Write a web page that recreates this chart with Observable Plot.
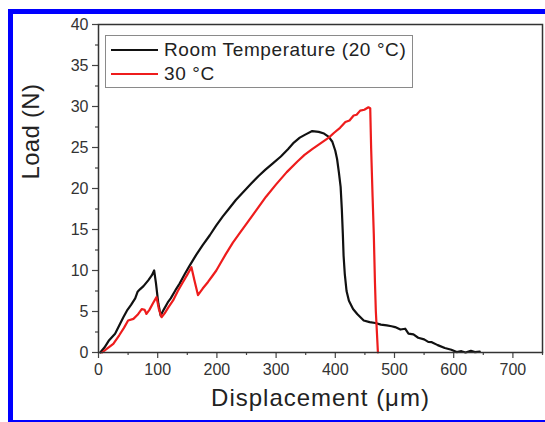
<!DOCTYPE html>
<html>
<head>
<meta charset="utf-8">
<script src="https://cdn.jsdelivr.net/npm/d3@7"></script>
<script src="https://cdn.jsdelivr.net/npm/@observablehq/plot@0.6"></script>
<style>
  html, body { margin: 0; padding: 0; background: #fff; }
  #wrap { position: relative; width: 545px; height: 422px; overflow: hidden; font-family: "Liberation Sans", Arial, sans-serif; }
  #border { position: absolute; left: 8px; top: 9px; width: 560px; height: 406px; border-left: 5px solid #0000ff; border-top: 5px solid #0000ff; border-bottom: 3px solid #0000ff; pointer-events: none; }
  #legend { position: absolute; left: 105px; top: 35px; width: 306px; height: 51px; border: 1px solid #8a8a8a; background: #fff; }
  .item { position: absolute; left: 5px; height: 22px; display: flex; align-items: center; font-size: 19px; letter-spacing: 0.6px; color: #222; white-space: nowrap; }
  .swatch { width: 47px; height: 0; border-top: 2px solid; margin-right: 6px; }
</style>
</head>
<body>
<div id="wrap"></div>
<script>
// Room Temperature (20 °C)
const rtX = [3,10,18,28,35,42,48,55,62,66,70,76,84,90,94,97,101,105,110,117,122,130,137,146,154,165,176,188,199,210,220,232,245,258,270,282,295,308,320,330,340,350,361,372,381,389,395,400,403,406,409,411,412.7,414,416,419,423,430,437,448,458,467.6,477,487,495,501,510,518,523.6,532,540,550,557,563,573,585,596,605,613,620,629,636,644];
const rtY = [0,0.6,1.5,2.3,3.3,4.3,5.1,5.8,6.6,7.4,7.7,8.1,8.8,9.4,10.0,8.5,6.0,4.5,5.2,6.1,6.6,7.6,8.4,9.6,10.6,11.9,13.1,14.3,15.5,16.6,17.5,18.6,19.6,20.6,21.5,22.3,23.1,23.9,24.8,25.6,26.2,26.6,27.0,26.9,26.7,26.3,25.7,24.6,23.6,22.0,20.2,17.5,14.5,11.8,9.6,7.5,6.3,5.3,4.7,3.9,3.7,3.6,3.4,3.3,3.2,3.1,2.8,2.9,2.3,2.2,1.8,1.6,1.3,1.26,0.9,0.55,0.33,0.05,0.16,0,0.2,0.05,0.1];
// 30 °C
const c30X = [6,15,25,35,43,50,59,66,73,78,81,86,92,98,102,106.5,112,118,126,134,142,150,157,162,168,176,185,192,199,207,215,227,240,252,266,283,300,318,336,348,361,375,389,398,408,417,424,431,436,442,449,456,459,460.5,463,465,467,468.5,472];
const c30Y = [0,0.5,1.06,2.1,3.0,3.9,4.1,4.6,5.3,5.2,4.7,5.2,6.0,6.75,5.3,4.3,4.8,5.5,6.35,7.5,8.5,9.5,10.4,8.8,7.0,7.8,8.6,9.3,10.0,11.0,12.0,13.4,14.7,15.9,17.3,19.0,20.5,22.0,23.3,24.1,24.8,25.5,26.2,26.8,27.4,28.1,28.3,28.9,29.0,29.5,29.6,29.9,29.8,25,19,14.5,8.5,5,0];

const seriesNames = ["Room Temperature (20 °C)", "30 °C"];
const seriesColors = ["#111111", "#ee1c1c"];
const xMajor = [0,100,200,300,400,500,600,700];
const xMinor = [50,150,250,350,450,550,650,750];
const yMajor = [0,5,10,15,20,25,30,35,40];
const yMinor = [2.5,7.5,12.5,17.5,22.5,27.5,32.5,37.5];
const xTitle = "Displacement (\u03bcm)";
const yTitle = "Load (N)";

const rt = rtX.map((x, i) => ({x, y: rtY[i]}));
const c30 = c30X.map((x, i) => ({x, y: c30Y[i]}));

const font = "Liberation Sans, Arial, sans-serif";
const chart = Plot.plot({
  width: 545,
  height: 422,
  marginLeft: 98,
  marginRight: 3,
  marginTop: 24,
  marginBottom: 70,
  style: {fontFamily: font, background: "transparent", overflow: "visible"},
  x: {domain: [0, 750]},
  y: {domain: [0, 40]},
  marks: [
    Plot.axisX({ticks: xMinor, tickSize: 3, text: null, stroke: "#444", strokeWidth: 1.2, label: null}),
    Plot.axisX({ticks: xMajor, tickSize: 6, tickPadding: 5, fontSize: 16, fill: "#333", stroke: "#444", strokeWidth: 1.2, label: null}),
    Plot.axisY({ticks: yMinor, tickSize: 3, text: null, stroke: "#444", strokeWidth: 1.2, label: null}),
    Plot.axisY({ticks: yMajor, tickSize: 6, tickPadding: 4, fontSize: 16, fill: "#333", stroke: "#444", strokeWidth: 1.2, label: null}),
    Plot.line(rt, {x: "x", y: "y", stroke: seriesColors[0], strokeWidth: 2.2}),
    Plot.line(c30, {x: "x", y: "y", stroke: seriesColors[1], strokeWidth: 2.2}),
    Plot.frame({stroke: "#333", strokeWidth: 1.5}),
    Plot.text([xTitle], {frameAnchor: "bottom", dy: 53.5, fontSize: 24, fill: "#222"}),
    Plot.text([yTitle], {frameAnchor: "left", dx: -67, dy: -9, rotate: -90, fontSize: 24, fill: "#222"})
  ]
});

d3.select(chart).selectAll("text").each(function() {
  const t = this.textContent;
  if (t === xTitle) this.setAttribute("letter-spacing", "1");
  if (t === yTitle) this.setAttribute("letter-spacing", "0.3");
});

const wrap = document.getElementById("wrap");
wrap.appendChild(chart);
chart.style.position = "absolute";
chart.style.left = "0px";
chart.style.top = "0px";

const border = document.createElement("div");
border.id = "border";
wrap.appendChild(border);

const legend = document.createElement("div");
legend.id = "legend";
seriesNames.forEach((name, i) => {
  const item = document.createElement("div");
  item.className = "item";
  item.style.top = (3 + i * 24) + "px";
  const sw = document.createElement("span");
  sw.className = "swatch";
  sw.style.borderTopColor = seriesColors[i];
  const t = document.createElement("span");
  t.textContent = name;
  item.appendChild(sw);
  item.appendChild(t);
  legend.appendChild(item);
});
wrap.appendChild(legend);
</script>
</body>
</html>
